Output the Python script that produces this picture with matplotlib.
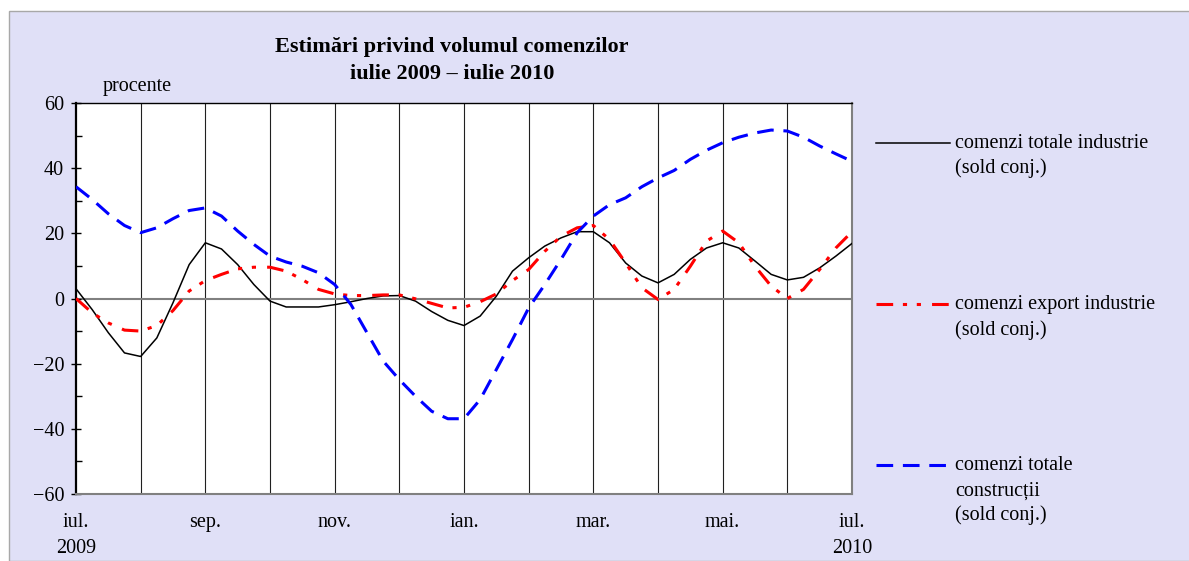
import numpy as np
import matplotlib.pyplot as plt
from matplotlib.lines import Line2D
from matplotlib.patches import Rectangle

plt.rcParams['font.family'] = ['Liberation Serif', 'DejaVu Serif']
plt.rcParams['lines.scale_dashes'] = False

# month index, jul 2009 = 0 ... jul 2010 = 12, read every quarter month
months = np.arange(49) / 4.0

total_ind = [3.0, -3.4, -10.5, -16.7, -17.8, -12.1, -1.3, 10.4, 17.1, 15.2, 10.4, 4.3, -0.8,
             -2.6, -2.6, -2.6, -1.9, -1.0, 0.0, 0.8, 0.9, -0.8, -4.0, -6.7, -8.3,
             -5.4, 0.7, 8.4, 12.5, 16.1, 18.6, 20.5, 20.5, 17.1, 10.9, 6.9, 4.8,
             7.4, 12.0, 15.5, 17.1, 15.5, 11.5, 7.4, 5.7, 6.5, 9.4, 13.0, 16.9]

export_ind = [0.0, -4.4, -7.5, -9.7, -10.0, -8.3, -3.7, 2.3, 5.5, 7.4, 9.1, 9.6, 9.6,
              8.4, 5.8, 2.8, 1.4, 0.9, 0.9, 1.1, 1.1, -0.1, -1.5, -2.9, -2.7,
              -1.0, 1.4, 5.5, 8.9, 14.5, 19.1, 21.7, 22.4, 18.1, 10.9, 3.3, -0.3,
              2.8, 9.9, 17.6, 20.7, 17.1, 9.9, 3.8, 0.0, 2.8, 8.9, 15.5, 20.5]

constr = [34.3, 30.4, 26.0, 22.4, 20.2, 21.7, 24.5, 27.0, 27.8, 25.3, 20.7, 16.6, 13.0,
          11.2, 9.9, 7.9, 4.3, -1.8, -10.5, -19.2, -24.9, -30.0, -34.6, -36.9, -36.9,
          -31.0, -21.8, -12.6, -2.9, 4.3, 12.0, 20.2, 25.3, 28.8, 30.9, 34.3, 37.0,
          39.3, 42.7, 45.5, 47.8, 49.5, 50.8, 51.7, 51.4, 49.5, 46.8, 44.4, 42.1]

tick_pos = [0, 2, 4, 6, 8, 10, 12]
tick_lbl = ["iul.\n2009", "sep.", "nov.", "ian.", "mar.", "mai.", "iul.\n2010"]

W, H = 1189, 561
def fx(px): return px / W
def fy(py): return 1 - py / H

FS = 14.5

fig = plt.figure(figsize=(W/100, H/100), dpi=100)
fig.patch.set_facecolor('white')
fig.patches.append(Rectangle((fx(9), 0), 1, fy(11), transform=fig.transFigure,
                             facecolor='#e0e0f7', edgecolor='#a8a8a8', lw=1, zorder=-10))

ax = fig.add_axes([fx(76), 67/H, 776/W, 391/H])
ax.set_facecolor('white')

for m in range(1, 12):
    ax.axvline(m, color='#202020', lw=0.8, zorder=1)
ax.axhline(0, color='#808080', lw=1.5, zorder=1)

ax.plot(months, total_ind, color='black', lw=1.1, zorder=3, solid_joinstyle='round')
ax.plot(months, export_ind, color='#ff0000', lw=2.2, dashes=(12, 7, 3, 7, 3, 8), zorder=3)
ax.plot(months, constr, color='#0000ff', lw=2.2, dashes=(12, 7), zorder=4)

ax.set_xlim(0, 12)
ax.set_ylim(-60, 60)
ax.set_yticks(range(-60, 61, 20))
ax.set_yticks(range(-50, 51, 20), minor=True)
ax.tick_params(axis='y', which='major', direction='inout', length=7, width=1,
               labelsize=FS, pad=5)
ax.tick_params(axis='y', which='minor', direction='in', length=4, width=1)
ax.set_xticks(tick_pos, tick_lbl)
ax.tick_params(axis='x', length=0, pad=14, labelsize=FS)
for lbl in ax.get_xticklabels():
    lbl.set_linespacing(1.45)

ax.spines['left'].set_color('black')
ax.spines['left'].set_linewidth(1.6)
ax.spines['top'].set_color('black')
ax.spines['top'].set_linewidth(1.0)
ax.spines['right'].set_color('#808080')
ax.spines['right'].set_linewidth(1.5)
ax.spines['bottom'].set_color('#808080')
ax.spines['bottom'].set_linewidth(1.5)

fig.text(fx(452), fy(47), "Estimări privind volumul comenzilor", ha='center', va='center',
         fontsize=16, fontweight='bold')
fig.text(fx(452), fy(74), "iulie 2009 – iulie 2010", ha='center', va='center',
         fontsize=16, fontweight='bold')
fig.text(fx(103), fy(86), "procente", ha='left', va='center', fontsize=FS)

# legend
fig.add_artist(Line2D([fx(876), fx(950)], [fy(143)] * 2, transform=fig.transFigure,
                      color='black', lw=1.1))
fig.add_artist(Line2D([fx(876), fx(950)], [fy(304)] * 2, transform=fig.transFigure,
                      color='#ff0000', lw=2.2, dashes=(12, 7, 3, 7, 3, 8)))
fig.add_artist(Line2D([fx(876), fx(950)], [fy(465)] * 2, transform=fig.transFigure,
                      color='#0000ff', lw=2.2, dashes=(12, 7)))

leg_txt = [(143, "comenzi totale industrie"), (168, "(sold conj.)"),
           (305, "comenzi export industrie"), (330, "(sold conj.)"),
           (466, "comenzi totale"), (491, "construcții"), (515, "(sold conj.)")]
for py, s in leg_txt:
    fig.text(fx(955), fy(py), s, ha='left', va='center', fontsize=FS)

fig.savefig('out.png', dpi=100, facecolor=fig.get_facecolor())
